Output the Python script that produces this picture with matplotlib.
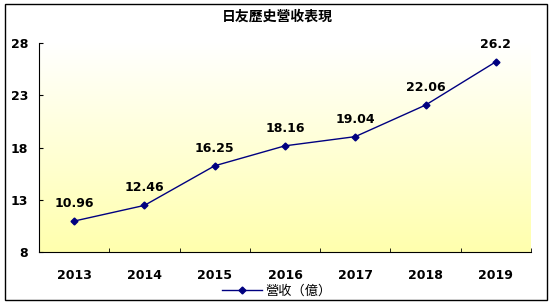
import numpy as np
import matplotlib.pyplot as plt
from matplotlib.patches import Rectangle

plt.rcParams['font.family'] = ['Noto Sans CJK TC', 'DejaVu Sans']

years = ["2013", "2014", "2015", "2016", "2017", "2018", "2019"]
revenue = [10.96, 12.46, 16.25, 18.16, 19.04, 22.06, 26.2]
value_labels = ["10.96", "12.46", "16.25", "18.16", "19.04", "22.06", "26.2"]
y_ticks = [8, 13, 18, 23, 28]

fig = plt.figure(figsize=(5.54, 3.08), dpi=100)
ax = fig.add_axes([0.0704, 0.1818, 0.888, 0.6786])

# outer border of the chart
fig.patches.append(Rectangle((0.009, 0.026), 0.978, 0.961, transform=fig.transFigure,
                             fill=False, edgecolor="black", linewidth=1.0))

# white (top) to pale yellow (bottom) background of the plot area
grad = np.linspace(0, 1, 256).reshape(-1, 1)
cols = np.zeros((256, 1, 3))
cols[..., 0] = 1.0
cols[..., 1] = 1.0
cols[..., 2] = 1.0 - 0.32 * grad
ax.imshow(cols, extent=[-0.5, 6.5, 8, 28], origin="upper", aspect="auto", zorder=0)

x = np.arange(len(years))
ax.plot(x, revenue, color="#000080", linewidth=1.0, marker="D", markersize=3.5,
        label="營收（億）", zorder=3)

for xi, yi, lab in zip(x, revenue, value_labels):
    ax.annotate(lab, (xi, yi), xytext=(0, 8), textcoords="offset points",
                ha="center", va="bottom", fontsize=9, fontweight="bold",
                family="DejaVu Sans")

ax.set_xlim(-0.5, 6.5)
ax.set_ylim(8, 28)
ax.set_yticks(y_ticks)
ax.set_yticklabels([str(t) for t in y_ticks], fontsize=9, fontweight="bold",
                   family="DejaVu Sans")
ax.set_xticks(x)
ax.set_xticklabels(years, fontsize=9, fontweight="bold", family="DejaVu Sans")
ax.set_xticks(np.arange(-0.5, 6.6, 1), minor=True)
ax.tick_params(axis="x", which="major", length=0, pad=12)
ax.tick_params(axis="x", which="minor", direction="in", length=3)
ax.tick_params(axis="y", direction="in", length=3, pad=8)

ax.spines["top"].set_visible(False)
ax.spines["right"].set_visible(False)

fig.text(0.5, 0.945, "日友歷史營收表現", ha="center", va="center",
         fontsize=10, fontweight="bold")

fig.legend(loc="center", bbox_to_anchor=(0.5, 0.055), frameon=False,
           fontsize=9.5, handlelength=3.0, handletextpad=0.3)

fig.savefig("out.png", dpi=100)
